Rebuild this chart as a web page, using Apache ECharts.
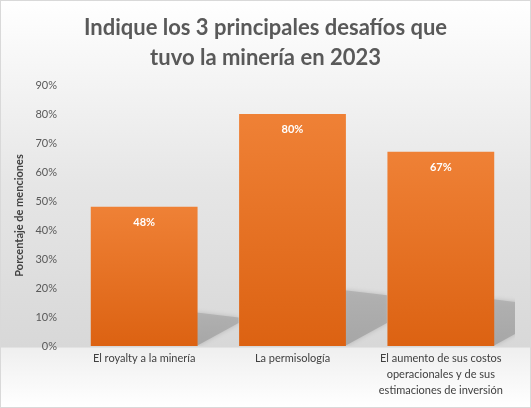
<!DOCTYPE html>
<html lang="es">
<head>
    <meta charset="UTF-8">
    <title>Desafíos minería 2023</title>
    <script src="https://cdn.jsdelivr.net/npm/echarts@6/dist/echarts.min.js"></script>
    <style>
        html, body { margin: 0; padding: 0; background: #fff; }
        #chart { width: 531px; height: 408px; box-sizing: border-box; border: 1px solid #d9d9d9; }
    </style>
</head>
<body>
    <div id="chart"></div>
    <script type="text/javascript">

        var titulo = 'Indique los 3 principales desafíos que\ntuvo la minería en 2023';
        var categorias = [
            'El royalty a la minería',
            'La permisología',
            'El aumento de sus costos\noperacionales y de sus\nestimaciones de inversión'
        ];
        var porcentajes = [48, 80, 67];
        var ejeNombre = 'Porcentaje de menciones';

        var chart = echarts.init(document.getElementById('chart'));

        // sombra en perspectiva detras de cada barra
        function sombra(params, api) {
            var idx = api.value(0);
            var val = api.value(1);
            var base = api.coord([idx, 0]);
            var tope = api.coord([idx, val]);
            var ancho = api.size([1, 0])[0] * 0.72;
            var x0 = base[0] + ancho / 2 - 1;
            var alto = (base[1] - tope[1]) * 0.24;
            var w = 42;
            return {
                type: 'polygon',
                shape: {
                    points: [
                        [x0, base[1]],
                        [x0, base[1] - alto],
                        [x0 + w, base[1] - alto + 5],
                        [x0 + w, base[1] - w * 0.55]
                    ]
                },
                style: {
                    fill: new echarts.graphic.LinearGradient(0, 0, 0, 1, [
                        { offset: 0, color: 'rgba(175,175,175,0.85)' },
                        { offset: 1, color: 'rgba(165,165,165,0.95)' }
                    ]),
                    shadowBlur: 5,
                    shadowColor: 'rgba(170,170,170,0.8)'
                }
            };
        }

        chart.setOption({
            backgroundColor: new echarts.graphic.LinearGradient(0, 0, 0, 1, [
                { offset: 0, color: '#ffffff' },
                { offset: 0.45, color: '#e6e6e6' },
                { offset: 0.853, color: '#d8d8d8' },
                { offset: 0.854, color: '#efefef' },
                { offset: 1, color: '#ffffff' }
            ]),
            title: {
                text: titulo,
                left: 'center',
                top: 7,
                textStyle: {
                    color: '#595959',
                    fontFamily: 'Lato',
                    fontWeight: 'bold',
                    fontSize: 22,
                    lineHeight: 30
                }
            },
            grid: { left: 69, right: 15, top: 84, bottom: 61 },
            xAxis: {
                type: 'category',
                data: categorias,
                axisLine: { show: false },
                axisTick: { show: false },
                axisLabel: {
                    color: '#404040',
                    fontFamily: 'Lato',
                    fontSize: 11,
                    lineHeight: 16,
                    margin: 4,
                    interval: 0
                }
            },
            yAxis: {
                type: 'value',
                min: 0,
                max: 90,
                interval: 10,
                name: ejeNombre,
                nameLocation: 'middle',
                nameGap: 37,
                nameTextStyle: {
                    color: '#404040',
                    fontFamily: 'Lato',
                    fontWeight: 'bold',
                    fontSize: 11
                },
                splitLine: { show: false },
                axisLine: { show: false },
                axisTick: { show: false },
                axisLabel: {
                    color: '#595959',
                    fontFamily: 'Lato',
                    fontSize: 11,
                    margin: 13,
                    formatter: '{value}%'
                }
            },
            series: [{
                type: 'custom',
                renderItem: sombra,
                data: porcentajes.map(function (v, i) { return [i, v]; }),
                clip: true,
                silent: true,
                z: 1
            }, {
                type: 'bar',
                data: porcentajes,
                barWidth: '72%',
                z: 3,
                itemStyle: {
                    color: new echarts.graphic.LinearGradient(0, 0, 0, 1, [
                        { offset: 0, color: '#ef8136' },
                        { offset: 1, color: '#dc6212' }
                    ])
                },
                label: {
                    show: true,
                    position: 'insideTop',
                    distance: 10,
                    color: '#ffffff',
                    fontFamily: 'Lato',
                    fontWeight: 'bold',
                    fontSize: 11,
                    formatter: '{c}%'
                }
            }]
        });

    </script>
</body>
</html>
